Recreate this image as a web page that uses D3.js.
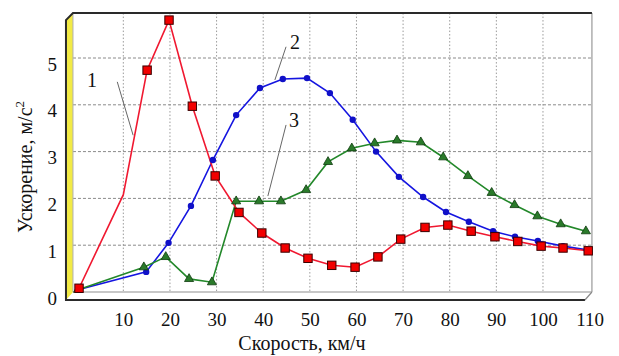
<!DOCTYPE html>
<html><head><meta charset="utf-8">
<script src="https://cdn.jsdelivr.net/npm/d3@7/dist/d3.min.js"></script>
<style>body{margin:0;background:#fff}svg{display:block}
.ax text{font-family:'Liberation Serif','Times New Roman',serif;}</style>
</head><body>
<svg id="c" width="619" height="356"></svg>
<script>
// ---- data ----
const xTicks = [10,20,30,40,50,60,70,80,90,100,110];
const yTicks = [0,1,2,3,4,5];
const xTitle = "Скорость, км/ч";
const yTitle = "Ускорение, м/с";

// curve 1 (red squares)
const x1 = [0.5,10,15.1,19.8,24.8,29.7,34.8,39.7,44.7,49.6,54.7,59.7,64.6,69.5,74.7,79.6,84.6,89.7,94.6,99.6,104.3,109.7];
const y1 = [0.08,2.08,4.74,5.81,3.97,2.48,1.7,1.26,0.94,0.72,0.57,0.53,0.75,1.13,1.38,1.43,1.3,1.18,1.08,0.98,0.94,0.88];
const m1 = [1,0,1,1,1,1,1,1,1,1,1,1,1,1,1,1,1,1,1,1,1,1];
// curve 2 (blue circles)
const x2 = [0.3,14.9,19.7,24.5,29.2,34.2,39.3,44.2,49.4,54.3,59.2,64.2,69.1,74.3,79.2,84.1,89.3,94.0,98.9,104.3,109.4];
const y2 = [0.05,0.43,1.05,1.84,2.82,3.78,4.36,4.55,4.57,4.25,3.68,3.0,2.46,2.03,1.71,1.5,1.3,1.18,1.09,0.98,0.9];
// curve 3 (green triangles)
const x3 = [0.3,14.4,19.1,24.1,29.0,34.2,39.1,43.8,49.2,53.9,59.0,63.9,68.7,73.8,78.6,83.9,89.0,93.9,98.8,103.8,109.2];
const y3 = [0.05,0.53,0.75,0.28,0.21,1.94,1.94,1.94,2.18,2.78,3.07,3.18,3.24,3.2,2.88,2.48,2.12,1.86,1.62,1.45,1.3];

// annotations (labels and leader lines, in data units)
const annText = ["1","2","3"];
const annX = [3.3,46.8,46.6];
const annY = [4.38,5.19,3.53];
const leadX0 = [8.7,44.9,44.9], leadY0 = [4.49,5.24,3.57];
const leadX1 = [12.1,42.5,41.0], leadY1 = [3.35,4.53,2.05];

// ---- drawing ----
const svg = d3.select("#c");
const x = d3.scaleLinear().domain([0,110]).range([76.7,589.6]);
const y = d3.scaleLinear().domain([0,5]).range([292,58]);
const L = x(-0.8), R = x(110.5), T = y(5.96), B = y(0);
const dx = 7, dy = 8; // 3D depth offset
const serif = "'Liberation Serif','Times New Roman',serif";

svg.append("rect").attr("width",619).attr("height",356).attr("fill","#fff");

// grid
svg.append("g").selectAll("line").data(xTicks.filter(d=>d<110)).join("line")
  .attr("x1",d=>x(d)).attr("x2",d=>x(d)).attr("y1",T).attr("y2",B)
  .attr("stroke","#9a9a9a").attr("stroke-width",1).attr("stroke-dasharray","1.5,2");
svg.append("g").selectAll("line").data(yTicks.filter(d=>d>0)).join("line")
  .attr("x1",L).attr("x2",R).attr("y1",d=>y(d)).attr("y2",d=>y(d))
  .attr("stroke","#8a8a8a").attr("stroke-width",1).attr("stroke-dasharray","3,2");

// frame: left yellow wall
svg.append("path").attr("d",`M${L-dx},${T+dx} L${L},${T} L${L},${B} L${L-dx},${B+dy} Z`)
  .attr("fill","#f2ea45").attr("stroke","none");
svg.append("line").attr("x1",L).attr("x2",L).attr("y1",T).attr("y2",B).attr("stroke","#b0b0b0").attr("stroke-width",1);
// floor
svg.append("line").attr("x1",L).attr("x2",R).attr("y1",B).attr("y2",B).attr("stroke","#b5b5b5").attr("stroke-width",1.5);
svg.append("path").attr("d",`M${R},${B} L${R-dx},${B+dy}`).attr("stroke","#888").attr("fill","none").attr("stroke-width",1.2);
// right border
svg.append("line").attr("x1",R).attr("x2",R).attr("y1",T).attr("y2",B).attr("stroke","#999").attr("stroke-width",1.2);
// top border and outer left / bottom
svg.append("path").attr("d",`M${R},${T} L${L},${T} L${L-dx},${T+dx} L${L-dx},${B+dy} L${R-dx},${B+dy}`)
  .attr("fill","none").attr("stroke","#2a2a2a").attr("stroke-width",2);

// axes labels via d3 axes
const xAxis = svg.append("g").attr("class","ax").attr("transform",`translate(0,${B+dy})`)
  .call(d3.axisBottom(x).tickValues(xTicks).tickFormat(d3.format("d")).tickSize(0).tickPadding(0));
xAxis.attr("font-family",serif).attr("font-size",19);
xAxis.select(".domain").remove();
xAxis.selectAll("text").style("font-family",serif).style("font-size","19px").attr("fill","#111")
  .attr("dy",null).attr("y",26);

const yAxis = svg.append("g").attr("class","ax").attr("transform",`translate(${L-dx},6)`)
  .call(d3.axisLeft(y).tickValues(yTicks).tickFormat(d3.format("d")).tickSize(0).tickPadding(9));
yAxis.attr("font-family",serif).attr("font-size",19);
yAxis.select(".domain").remove();
yAxis.selectAll("text").style("font-family",serif).style("font-size","19px").attr("fill","#111");

// titles
svg.append("text").attr("x",302).attr("y",350).attr("text-anchor","middle")
  .style("font-family",serif).attr("font-size",20).attr("fill","#111").text(xTitle);
const yt = svg.append("text").attr("transform","translate(32,167) rotate(-90)").attr("text-anchor","middle")
  .style("font-family",serif).attr("font-size",20).attr("fill","#111");
yt.append("tspan").text(yTitle);
yt.append("tspan").attr("dy",-8).attr("font-size",13).text("2");

// lines
const line = d3.line().x(d=>x(d[0])).y(d=>y(d[1]));
const s1 = x1.map((v,i)=>[v,y1[i],m1[i]]);
const s2 = x2.map((v,i)=>[v,y2[i]]);
const s3 = x3.map((v,i)=>[v,y3[i]]);

svg.append("path").datum(s2).attr("d",line).attr("fill","none").attr("stroke","#1515e0").attr("stroke-width",1.6);
svg.append("path").datum(s3).attr("d",line).attr("fill","none").attr("stroke","#23882a").attr("stroke-width",1.6);
svg.append("path").datum(s1).attr("d",line).attr("fill","none").attr("stroke","#f01830").attr("stroke-width",1.6);

// leader lines and labels
svg.append("g").selectAll("line").data(annText).join("line")
  .attr("x1",(d,i)=>x(leadX0[i])).attr("y1",(d,i)=>y(leadY0[i]))
  .attr("x2",(d,i)=>x(leadX1[i])).attr("y2",(d,i)=>y(leadY1[i]))
  .attr("stroke","#666").attr("stroke-width",1);
svg.append("g").selectAll("text").data(annText).join("text")
  .attr("x",(d,i)=>x(annX[i])).attr("y",(d,i)=>y(annY[i])).attr("text-anchor","middle")
  .style("font-family",serif).attr("font-size",20).attr("fill","#111").text(d=>d);

// markers
svg.append("g").selectAll("circle").data(s2).join("circle")
  .attr("cx",d=>x(d[0])).attr("cy",d=>y(d[1])).attr("r",3.2).attr("fill","#1010c8");
const tri = d3.symbol().type(d3.symbolTriangle).size(36);
svg.append("g").selectAll("path").data(s3).join("path")
  .attr("transform",d=>`translate(${x(d[0])},${y(d[1])})`).attr("d",tri)
  .attr("fill","#2a7a2a").attr("stroke","#0c3a0c").attr("stroke-width",0.8);
svg.append("g").selectAll("rect").data(s1.filter(d=>d[2])).join("rect")
  .attr("x",d=>x(d[0])-4.2).attr("y",d=>y(d[1])-4.2).attr("width",8.4).attr("height",8.4)
  .attr("fill","#f20000").attr("stroke","#3a0000").attr("stroke-width",1);
</script>
</body></html>
